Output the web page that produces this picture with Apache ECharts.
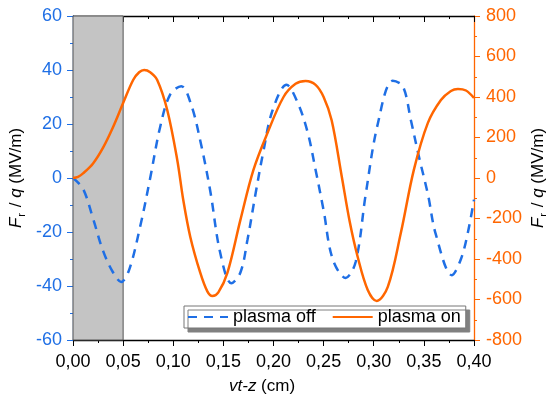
<!DOCTYPE html>
<html>
<head>
<meta charset="utf-8">
<script src="https://cdn.jsdelivr.net/npm/echarts@6/dist/echarts.min.js"></script>
<style>html,body{margin:0;padding:0;background:#fff}#c{width:546px;height:397px}</style>
</head>
<body>
<div id="c"></div>
<script>
// plasma off (left axis, MV/m)
const offX = [0, 0.010, 0.020, 0.030, 0.040, 0.048, 0.056, 0.067, 0.077, 0.087, 0.097, 0.108, 0.118, 0.128, 0.137, 0.147, 0.158, 0.167, 0.174, 0.182, 0.190, 0.199, 0.213, 0.224, 0.234, 0.242, 0.250, 0.259, 0.272, 0.282, 0.292, 0.304, 0.319, 0.329, 0.337, 0.345, 0.354, 0.362, 0.378, 0.387, 0.394, 0.400];
const offY = [0, -4, -15, -27, -35, -38.5, -34, -18, 0, 19, 31, 34, 27, 12, -5, -28, -39, -35, -23, -6, 10, 25, 34.5, 28, 17, 3, -12, -30, -37, -31, -6, 20, 36, 34, 21.5, 8, -6, -21, -36, -30, -20, -8];
// plasma on (right axis, MV/m)
const onX = [0, 0.005, 0.010, 0.020, 0.030, 0.040, 0.050, 0.060, 0.066, 0.071, 0.077, 0.084, 0.094, 0.104, 0.110, 0.117, 0.127, 0.134, 0.139, 0.145, 0.154, 0.167, 0.180, 0.194, 0.210, 0.222, 0.232, 0.242, 0.250, 0.258, 0.268, 0.276, 0.284, 0.294, 0.303, 0.314, 0.327, 0.340, 0.354, 0.367, 0.377, 0.384, 0.392, 0.400];
const onY = [0, 6, 23, 72, 150, 252, 370, 484, 522, 533, 522, 484, 336, 89, -109, -291, -469, -560, -583, -565, -469, -207, 40, 222, 400, 465, 479, 460, 400, 285, 10, -215, -390, -553, -607, -538, -272, 40, 272, 385, 430, 440, 432, 395];
const shadeRange = [0, 0.05];
const seriesNames = ['plasma off', 'plasma on'];

const BLUE = '#1f6fe5', ORANGE = '#ff6600', FONT = "'Liberation Sans', Arial, sans-serif";
const chart = echarts.init(document.getElementById('c'), null, {renderer: 'canvas'});
const tickFmt = v => v.toFixed(2).replace('.', ',');
const yName = '{i|F}{s|r}{n| / }{i|q}{n| (MV/m)}';
const nameRich = {
  i: {fontStyle: 'italic', fontSize: 17, fontFamily: FONT, color: '#000'},
  n: {fontSize: 17, fontFamily: FONT, color: '#000'},
  s: {fontSize: 11, fontFamily: FONT, color: '#000', padding: [10, 1, 0, 1]}
};
chart.setOption({
  animation: false,
  textStyle: {fontFamily: FONT},
  grid: {left: 73, right: 72, top: 16, bottom: 57, containLabel: false, outerBoundsMode: 'none'},
  legend: {
    left: 184, top: 306, padding: [2, 5, 2, 3], itemGap: 16,
    itemWidth: 40, itemHeight: 14,
    backgroundColor: '#fff', borderColor: '#777', borderWidth: 1, borderRadius: 0,
    shadowColor: '#808080', shadowBlur: 0, shadowOffsetX: 4, shadowOffsetY: 4,
    itemStyle: {color: 'rgba(0,0,0,0)', borderWidth: 0, opacity: 0},
    textStyle: {fontSize: 18, color: '#000', fontFamily: FONT},
    data: seriesNames
  },
  xAxis: [{
    type: 'value', min: 0, max: 0.4, interval: 0.05, position: 'bottom',
    axisLine: {onZero: false, lineStyle: {color: '#000', width: 1.3}},
    axisTick: {inside: false, length: 6, lineStyle: {color: '#000', width: 1}},
    minorTick: {show: true, splitNumber: 2, length: 3, lineStyle: {color: '#000'}},
    axisLabel: {formatter: tickFmt, fontSize: 18, color: '#000', margin: 13, fontFamily: FONT},
    splitLine: {show: false}
  }, {
    type: 'value', min: 0, max: 0.4, interval: 0.05, position: 'top',
    axisLine: {onZero: false, lineStyle: {color: '#000', width: 1.3}},
    axisTick: {inside: true, length: 6, lineStyle: {color: '#000', width: 1}},
    minorTick: {show: true, splitNumber: 2, length: 3, lineStyle: {color: '#000'}},
    axisLabel: {show: false}, splitLine: {show: false}
  }],
  yAxis: [{
    type: 'value', min: -60, max: 60, interval: 20, position: 'left',
    name: yName, nameLocation: 'middle', nameGap: 46, nameRotate: 90, nameMoveOverlap: false,
    nameTextStyle: {rich: nameRich},
    axisLine: {show: true, onZero: false, lineStyle: {color: BLUE, width: 1.3}},
    axisTick: {show: true, inside: false, length: 6, lineStyle: {color: BLUE}},
    minorTick: {show: true, splitNumber: 2, length: 3, lineStyle: {color: BLUE}},
    axisLabel: {fontSize: 18, color: BLUE, margin: 11, fontFamily: FONT},
    splitLine: {show: false}
  }, {
    type: 'value', min: -800, max: 800, interval: 200, position: 'right',
    name: yName, nameLocation: 'middle', nameGap: 54, nameRotate: 90, nameMoveOverlap: false,
    nameTextStyle: {rich: nameRich},
    axisLine: {show: true, onZero: false, lineStyle: {color: ORANGE, width: 1.3}},
    axisTick: {show: true, inside: false, length: 6, lineStyle: {color: ORANGE}},
    minorTick: {show: true, splitNumber: 2, length: 3, lineStyle: {color: ORANGE}},
    axisLabel: {fontSize: 18, color: ORANGE, margin: 12, fontFamily: FONT},
    splitLine: {show: false}
  }],
  graphic: [{
    type: 'text', left: 229, top: 378,
    style: {
      text: '{i|vt-z}{n| (cm)}',
      rich: {i: {fontStyle: 'italic', fontSize: 17, fontFamily: FONT}, n: {fontSize: 17, fontFamily: FONT}}
    }
  }],
  series: [{
    name: seriesNames[0], type: 'line', xAxisIndex: 0, yAxisIndex: 0,
    data: offX.map((x, i) => [x, offY[i]]),
    symbol: 'none', smooth: 0.35,
    lineStyle: {color: BLUE, width: 2.5, type: [9, 7]},
    itemStyle: {color: BLUE},
    z: 3,
    markArea: {
      silent: true,
      itemStyle: {color: '#c4c4c4', borderColor: '#555', borderWidth: 1},
      data: [[{xAxis: shadeRange[0]}, {xAxis: shadeRange[1]}]]
    }
  }, {
    name: seriesNames[1], type: 'line', xAxisIndex: 0, yAxisIndex: 1,
    data: onX.map((x, i) => [x, onY[i]]),
    symbol: 'none', smooth: 0.35,
    lineStyle: {color: ORANGE, width: 2.5},
    itemStyle: {color: ORANGE},
    z: 4
  }]
});
</script>
</body>
</html>
